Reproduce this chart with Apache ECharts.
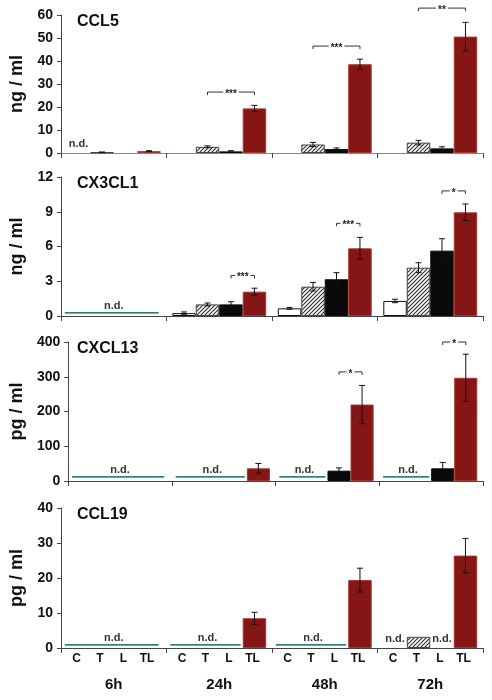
<!DOCTYPE html>
<html><head><meta charset="utf-8">
<script src="https://cdn.jsdelivr.net/npm/echarts@6/dist/echarts.min.js"></script>
<style>html,body{margin:0;padding:0;background:#fff}#c{width:492px;height:700px}</style>
</head><body><div id="c"></div>
<script>
// ---------- DATA ----------
const timePoints = ['6h', '24h', '48h', '72h'];
const conditions = ['C', 'T', 'L', 'TL'];

// CCL5 (ng / ml)
const ccl5_C  = [null, null, null, null];
const ccl5_T  = [0.3, 2.7, 3.7, 4.5];
const ccl5_L  = [null, 0.7, 1.7, 2.0];
const ccl5_TL = [0.8, 19.4, 38.6, 50.6];
const ccl5_errC  = [0, 0, 0, 0];
const ccl5_errT  = [0.15, 0.4, 0.9, 1.0];
const ccl5_errL  = [0, 0.3, 0.5, 0.7];
const ccl5_errTL = [0.2, 1.3, 2.2, 6.2];

// CX3CL1 (ng / ml)
const cx3_C  = [null, 0.25, 0.66, 1.3];
const cx3_T  = [null, 1.0, 2.53, 4.17];
const cx3_L  = [null, 1.0, 3.17, 5.64];
const cx3_TL = [null, 2.1, 5.84, 8.95];
const cx3_errC  = [0, 0.1, 0.08, 0.15];
const cx3_errT  = [0, 0.12, 0.37, 0.43];
const cx3_errL  = [0, 0.23, 0.57, 1.03];
const cx3_errTL = [0, 0.3, 0.95, 0.72];

// CXCL13 (pg / ml)
const cxcl13_C  = [null, null, null, null];
const cxcl13_T  = [null, null, null, null];
const cxcl13_L  = [null, null, 29.7, 36.5];
const cxcl13_TL = [null, 36.5, 220, 297];
const cxcl13_errC  = [0, 0, 0, 0];
const cxcl13_errT  = [0, 0, 0, 0];
const cxcl13_errL  = [0, 0, 8, 17];
const cxcl13_errTL = [0, 14, 55, 68];

// CCL19 (pg / ml)
const ccl19_C  = [null, null, null, null];
const ccl19_T  = [null, null, null, 3.2];
const ccl19_L  = [null, null, null, null];
const ccl19_TL = [null, 8.5, 19.4, 26.4];
const ccl19_errC  = [0, 0, 0, 0];
const ccl19_errT  = [0, 0, 0, 0];
const ccl19_errL  = [0, 0, 0, 0];
const ccl19_errTL = [0, 1.7, 3.4, 4.9];

// significance brackets: [timeIndex, fromCondition, toCondition, height, label]
const ccl5_sig   = [[1, 1, 3, 26.5, '***'], [2, 1, 3, 46.5, '***'], [3, 1, 3, 63, '**']];
const cx3_sig    = [[1, 2, 3, 3.5, '***'], [2, 2, 3, 8.0, '***'], [3, 2, 3, 10.8, '*']];
const cxcl13_sig = [[2, 2, 3, 314, '*'], [3, 2, 3, 400, '*']];
const ccl19_sig  = [];

// not detected marks: [timeIndex, fromCondition, toCondition, drawLine(1/0)]
const ccl5_nd   = [[0, 0, 0, 0]];
const cx3_nd    = [[0, 0, 3, 1]];
const cxcl13_nd = [[0, 0, 3, 1], [1, 0, 2, 1], [2, 0, 1, 1], [3, 0, 1, 1]];
const ccl19_nd  = [[0, 0, 3, 1], [1, 0, 2, 1], [2, 0, 2, 1], [3, 0, 0, 0], [3, 2, 2, 0]];

// n.d. detection level (value where the n.d. line sits)
const ndLevel = [0, 0.35, 14, 1.1];

const chemokines = ['CCL5', 'CX3CL1', 'CXCL13', 'CCL19'];
const units = ['ng / ml', 'ng / ml', 'pg / ml', 'pg / ml'];
const yMax = [60, 12, 400, 40];
const yInterval = [10, 3, 100, 10];

// ---------- STYLE / LAYOUT ----------
const FONT = '"Liberation Sans", Arial, Helvetica, sans-serif';
const GAP = 0.11;
const grids = [
  {left: 61, right: 9, top: 15, height: 138},
  {left: 61, right: 9, top: 177, height: 139},
  {left: 61, right: 9, top: 342, height: 139},
  {left: 61, right: 9, top: 508, height: 140}
];

function hatch() {
  const c = document.createElement('canvas');
  c.width = 4; c.height = 4;
  const g = c.getContext('2d');
  g.fillStyle = '#ffffff'; g.fillRect(0, 0, 4, 4);
  g.strokeStyle = '#333333'; g.lineWidth = 1.2;
  g.beginPath();
  g.moveTo(0, 4); g.lineTo(4, 0);
  g.moveTo(-1, 1); g.lineTo(1, -1);
  g.moveTo(3, 5); g.lineTo(5, 3);
  g.stroke();
  return c;
}
const hatchPattern = {image: hatch(), repeat: 'repeat'};

const barStyles = [
  {color: '#ffffff', borderColor: '#111', borderWidth: 1},
  {color: hatchPattern, borderColor: '#444', borderWidth: 1},
  {color: '#0a0a0a', borderColor: '#0a0a0a', borderWidth: 1},
  {color: '#861616', borderColor: '#a8342e', borderWidth: 1}
];

const panels = [
  {vals: [ccl5_C, ccl5_T, ccl5_L, ccl5_TL], errs: [ccl5_errC, ccl5_errT, ccl5_errL, ccl5_errTL], sig: ccl5_sig, nd: ccl5_nd},
  {vals: [cx3_C, cx3_T, cx3_L, cx3_TL], errs: [cx3_errC, cx3_errT, cx3_errL, cx3_errTL], sig: cx3_sig, nd: cx3_nd},
  {vals: [cxcl13_C, cxcl13_T, cxcl13_L, cxcl13_TL], errs: [cxcl13_errC, cxcl13_errT, cxcl13_errL, cxcl13_errTL], sig: cxcl13_sig, nd: cxcl13_nd},
  {vals: [ccl19_C, ccl19_T, ccl19_L, ccl19_TL], errs: [ccl19_errC, ccl19_errT, ccl19_errL, ccl19_errTL], sig: ccl19_sig, nd: ccl19_nd}
];

function slot(api, g, s) {
  const c = api.coord([g, 0]);
  const band = api.size([1, 0])[0];
  const bw = band * (1 - GAP) / 4;
  return {x: c[0] + (s - 1.5) * bw, bw: bw, y0: c[1]};
}

const xAxes = [], yAxes = [], series = [], titles = [];
panels.forEach((p, i) => {
  titles.push({text: chemokines[i], left: 77, top: grids[i].top - 1, padding: 0,
    textStyle: {fontFamily: FONT, fontSize: 16, fontWeight: 'bold', color: '#111'}});
  xAxes.push({
    type: 'category', gridIndex: i, data: timePoints, boundaryGap: true,
    axisLine: {show: true, lineStyle: {color: i === 0 ? '#c87050' : '#444', width: 1}},
    axisTick: {show: true, length: 5, lineStyle: {color: '#444'}},
    axisLabel: {show: i === 3, margin: 29, fontFamily: FONT, fontSize: 15, fontWeight: 'bold', color: '#111'},
    splitLine: {show: false}
  });
  yAxes.push({
    type: 'value', gridIndex: i, min: 0, max: yMax[i], interval: yInterval[i],
    name: units[i], nameLocation: 'middle', nameGap: 34,
    nameTextStyle: {fontFamily: FONT, fontSize: 18, fontWeight: 'bold', color: '#111'},
    axisLine: {show: true, lineStyle: {color: '#444', width: 1}},
    axisTick: {show: true, length: 4, lineStyle: {color: '#444'}},
    axisLabel: {margin: 8, fontFamily: FONT, fontSize: 14, fontWeight: 'bold', color: '#111'},
    splitLine: {show: false}
  });
  conditions.forEach((cond, k) => {
    series.push({
      type: 'bar', name: cond, xAxisIndex: i, yAxisIndex: i,
      data: p.vals[k], barGap: '0%', barCategoryGap: (GAP * 100) + '%',
      itemStyle: barStyles[k], silent: true, animation: false, z: 2
    });
  });
  // error bars
  const errItems = [];
  conditions.forEach((cond, k) => {
    p.vals[k].forEach((v, g) => {
      if (v != null && p.errs[k][g] > 0) errItems.push([g, k, v, p.errs[k][g]]);
    });
  });
  series.push({
    type: 'custom', xAxisIndex: i, yAxisIndex: i, clip: false, animation: false, silent: true, z: 5,
    data: errItems.map(d => [d[0], d[2]]), encode: {x: 0, y: 1},
    renderItem: (params, api) => {
      const d = errItems[params.dataIndex];
      const s = slot(api, d[0], d[1]);
      const yT = api.coord([d[0], d[2] + d[3]])[1];
      const yB = api.coord([d[0], d[2] - d[3]])[1];
      const st = {stroke: '#111', lineWidth: 1};
      return {type: 'group', children: [
        {type: 'line', shape: {x1: s.x, y1: yT, x2: s.x, y2: yB}, style: st},
        {type: 'line', shape: {x1: s.x - 3, y1: yT, x2: s.x + 3, y2: yT}, style: st},
        {type: 'line', shape: {x1: s.x - 3, y1: yB, x2: s.x + 3, y2: yB}, style: st}
      ]};
    }
  });
  // significance brackets
  if (p.sig.length) {
    series.push({
      type: 'custom', xAxisIndex: i, yAxisIndex: i, clip: false, animation: false, silent: true, z: 6,
      data: p.sig.map(d => [d[0], d[3]]), encode: {x: 0, y: 1},
      renderItem: (params, api) => {
        const d = p.sig[params.dataIndex];
        const a = slot(api, d[0], d[1]), b = slot(api, d[0], d[2]);
        const y = api.coord([d[0], d[3]])[1];
        const st = {stroke: '#333', lineWidth: 1};
        return {type: 'group', children: [
          {type: 'line', shape: {x1: a.x, y1: y, x2: b.x, y2: y}, style: st},
          {type: 'line', shape: {x1: a.x, y1: y, x2: a.x, y2: y + 3}, style: st},
          {type: 'line', shape: {x1: b.x, y1: y, x2: b.x, y2: y + 3}, style: st},
          {type: 'text', x: (a.x + b.x) / 2, y: y + 2, style: {text: d[4], align: 'center', verticalAlign: 'middle',
            font: 'bold 10px ' + FONT, fill: '#222', backgroundColor: '#fff', padding: [0, 2]}}
        ]};
      }
    });
  }
  // n.d. marks
  series.push({
    type: 'custom', xAxisIndex: i, yAxisIndex: i, clip: false, animation: false, silent: true, z: 4,
    data: p.nd.map(d => [d[0], ndLevel[i]]), encode: {x: 0, y: 1},
    renderItem: (params, api) => {
      const d = p.nd[params.dataIndex];
      const a = slot(api, d[0], d[1]), b = slot(api, d[0], d[2]);
      const x1 = a.x - a.bw / 2 - 2, x2 = b.x + b.bw / 2 - 2;
      const children = [];
      let ty;
      if (d[3]) {
        const y = Math.round(api.coord([d[0], ndLevel[i]])[1]) + 0.5;
        children.push({type: 'line', shape: {x1: x1, y1: y + 1, x2: x2, y2: y + 1}, style: {stroke: '#e07a68', lineWidth: 1}});
        children.push({type: 'line', shape: {x1: x1, y1: y, x2: x2, y2: y}, style: {stroke: '#2f7f7c', lineWidth: 1}});
        ty = y - 1;
      } else {
        ty = a.y0 - 4;
      }
      children.push({type: 'text', x: (a.x + b.x) / 2, y: ty, style: {text: 'n.d.', align: 'center', verticalAlign: 'bottom',
        font: 'bold 11px ' + FONT, fill: '#333'}});
      return {type: 'group', children: children};
    }
  });
});

// condition labels under the bottom panel
const condItems = [];
timePoints.forEach((t, g) => conditions.forEach((c, k) => condItems.push([g, k])));
series.push({
  type: 'custom', xAxisIndex: 3, yAxisIndex: 3, clip: false, animation: false, silent: true,
  data: condItems.map(d => [d[0], 0]), encode: {x: 0, y: 1},
  renderItem: (params, api) => {
    const d = condItems[params.dataIndex];
    const s = slot(api, d[0], d[1]);
    return {type: 'text', x: s.x - 2, y: s.y0 + 11, style: {text: conditions[d[1]], align: 'center', verticalAlign: 'middle',
      font: 'bold 12px ' + FONT, fill: '#111'}};
  }
});

const chart = echarts.init(document.getElementById('c'), null, {renderer: 'canvas'});
chart.setOption({
  animation: false,
  backgroundColor: '#ffffff',
  title: titles,
  grid: grids,
  xAxis: xAxes,
  yAxis: yAxes,
  series: series
});
</script>
</body></html>
